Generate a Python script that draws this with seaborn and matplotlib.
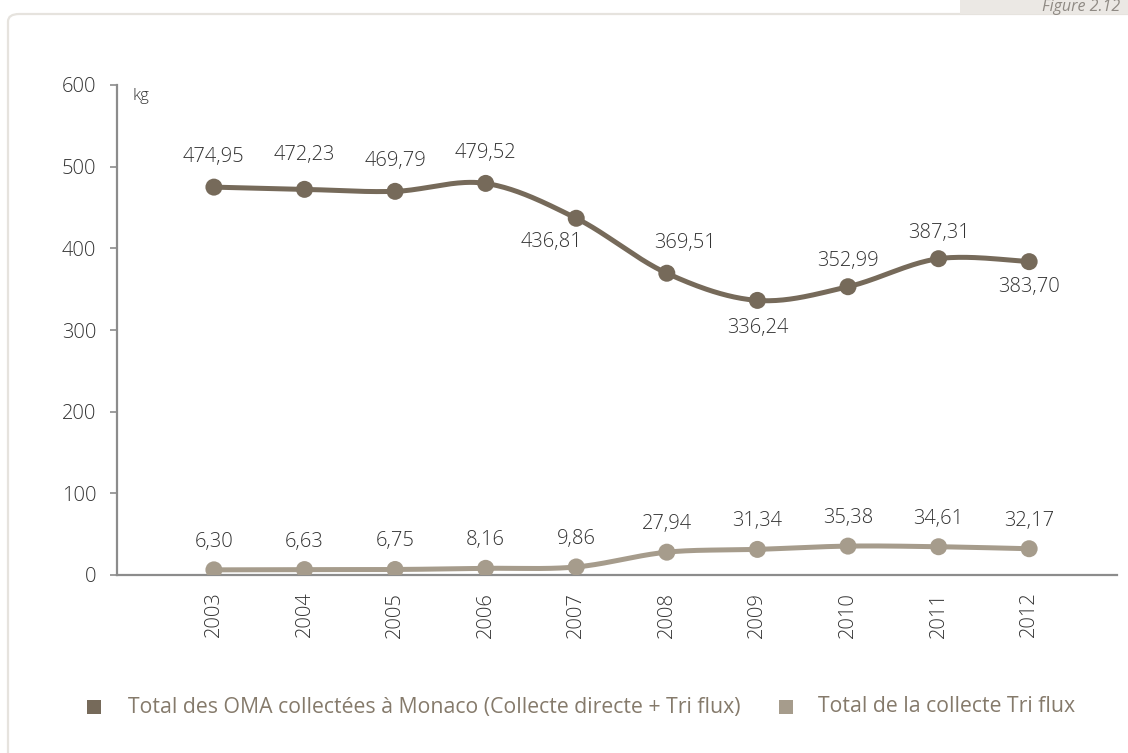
import numpy as np
import pandas as pd
import seaborn as sns
import matplotlib.pyplot as plt
from matplotlib.patches import Rectangle, FancyBboxPatch

# données (kg par habitant)
years = ["2003", "2004", "2005", "2006", "2007", "2008", "2009", "2010", "2011", "2012"]
total_oma = [474.95, 472.23, 469.79, 479.52, 436.81, 369.51, 336.24, 352.99, 387.31, 383.70]
tri_flux = [6.30, 6.63, 6.75, 8.16, 9.86, 27.94, 31.34, 35.38, 34.61, 32.17]
series_names = ["Total des OMA collectées à Monaco (Collecte directe + Tri flux)",
                "Total de la collecte Tri flux"]
y_ticks = [0, 100, 200, 300, 400, 500, 600]

# décalage des étiquettes (pixels)
offsets_oma = [(0, 30), (0, 34), (0, 30), (0, 30), (-25, -24), (18, 30),
               (0, -28), (0, 26), (0, 26), (0, -25)]
offsets_tri = [(0, 28)] * 10

DARK = "#766a5a"
LIGHT = "#a69c8c"
TXT = "#333333"
LEG = "#857a6b"

sns.set_theme(style="white")
plt.rcParams['font.family'] = ['Open Sans', 'DejaVu Sans']


def smooth(x, y, n=40):
    # courbe lissée type Excel (Bezier / Catmull-Rom)
    x = np.asarray(x, float)
    y = np.asarray(y, float)
    px = np.concatenate([[x[0]], x, [x[-1]]])
    py = np.concatenate([[y[0]], y, [y[-1]]])
    xs, ys = [], []
    t = np.linspace(0, 1, n)
    for i in range(1, len(px) - 2):
        p0 = np.array([px[i - 1], py[i - 1]])
        p1 = np.array([px[i], py[i]])
        p2 = np.array([px[i + 1], py[i + 1]])
        p3 = np.array([px[i + 2], py[i + 2]])
        c1 = p1 + (p2 - p0) / 6
        c2 = p2 - (p3 - p1) / 6
        b = ((1 - t) ** 3)[:, None] * p1 + (3 * (1 - t) ** 2 * t)[:, None] * c1 \
            + (3 * (1 - t) * t ** 2)[:, None] * c2 + (t ** 3)[:, None] * p2
        xs.extend(b[:, 0])
        ys.extend(b[:, 1])
    return np.array(xs), np.array(ys)


fig = plt.figure(figsize=(11.28, 7.53), dpi=100)
ax = fig.add_axes([117 / 1128, 1 - 575 / 753, 1000 / 1128, 490 / 753])

xpos = np.arange(len(years))
for vals, col in [(total_oma, DARK), (tri_flux, LIGHT)]:
    sx, sy = smooth(xpos, vals)
    sns.lineplot(x=sx, y=sy, sort=False, color=col, linewidth=3.6, ax=ax, zorder=2)
    sns.scatterplot(x=xpos, y=vals, color=col, s=150, edgecolor="none", ax=ax, zorder=3)

def fmt(v):
    return f"{v:.2f}".replace(".", ",")

for vals, offs in [(total_oma, offsets_oma), (tri_flux, offsets_tri)]:
    for i, v in enumerate(vals):
        ax.annotate(fmt(v), (xpos[i], v), xytext=offs[i], textcoords="offset pixels",
                    ha="center", va="center", fontsize=14.5, color=TXT, fontweight="light")

ax.set_xlim(-1.07, 9.97)
ax.set_ylim(0, 600)
ax.set_xticks(xpos)
ax.set_xticklabels(years, rotation=90, fontsize=14.5, color=TXT, fontweight="light")
ax.set_yticks(y_ticks)
ax.set_yticklabels([str(t) for t in y_ticks], fontsize=14.5, color=TXT, fontweight="light")
ax.tick_params(axis="y", length=5, width=1.2, color="#8c8c8c", pad=10, left=True)
ax.tick_params(axis="x", length=0, pad=12)
for s in ["top", "right"]:
    ax.spines[s].set_visible(False)
for s in ["left", "bottom"]:
    ax.spines[s].set_color("#8c8c8c")
    ax.spines[s].set_linewidth(1.6)
ax.set_xlabel("")
ax.set_ylabel("")
ax.text(133 / 1128, 1 - 96 / 753, "kg", transform=fig.transFigure, fontsize=12,
        color=TXT, va="center", ha="left", fontweight="light")

# cadre
fig.add_artist(FancyBboxPatch((8 / 1128, -0.05), 1.2, 1 - 14 / 753 + 0.05,
                              boxstyle="round,pad=0,rounding_size=0.01",
                              transform=fig.transFigure, facecolor="none",
                              edgecolor="#e6e3de", linewidth=1.6, zorder=0))
fig.add_artist(Rectangle((960 / 1128, 1 - 14 / 753), 1, 14 / 753, transform=fig.transFigure,
                         facecolor="#ebe8e4", edgecolor="none", zorder=1))
fig.text(1120 / 1128, 1 - 11 / 753, "Figure 2.12", ha="right", va="baseline",
         fontsize=11.5, style="italic", color="#8f8a84", zorder=2)

# légende
yl = 1 - 707 / 753
for (sq, tx), name, col in zip([(87, 128), (779, 818)], series_names, [DARK, LIGHT]):
    fig.add_artist(Rectangle((sq / 1128, yl - 7 / 753), 14 / 1128, 14 / 753,
                             transform=fig.transFigure, facecolor=col, edgecolor="none"))
    fig.text(tx / 1128, yl, name, ha="left", va="center", fontsize=15.3, color=LEG)

fig.savefig("out.png", dpi=100)
